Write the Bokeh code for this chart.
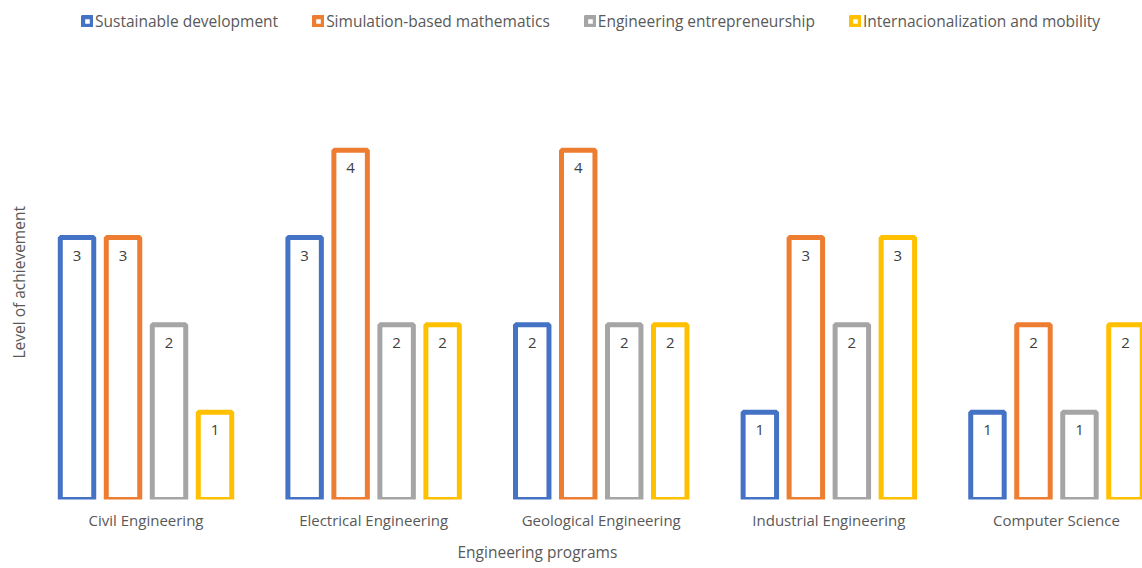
from bokeh.plotting import figure
from bokeh.models import ColumnDataSource, Legend, LegendItem, Range1d, FixedTicker, Title
from bokeh.transform import dodge
from bokeh.core.properties import value
from bokeh.embed import file_html
from bokeh.resources import INLINE

programs = ["Civil Engineering", "Electrical Engineering", "Geological Engineering",
            "Industrial Engineering", "Computer Science"]
series_names = ["Sustainable development", "Simulation-based mathematics",
                "Engineering entrepreneurship", "Internacionalization and mobility"]
sustainable = [3, 3, 2, 1, 1]
simulation = [3, 4, 4, 3, 2]
entrepreneurship = [2, 2, 2, 2, 1]
internationalization = [1, 2, 2, 3, 2]
colors = ["#4472C4", "#ED7D31", "#A5A5A5", "#FFC000"]

series = [sustainable, simulation, entrepreneurship, internationalization]
keys = ["s0", "s1", "s2", "s3"]

data = {"idx": list(range(len(programs)))}
for k, vals in zip(keys, series):
    data[k] = vals
    data[k + "_lbl"] = [str(v) for v in vals]
src = ColumnDataSource(data)

FONT = "Open Sans"
W, H = 1142, 568
p = figure(width=W, height=H, output_backend="svg", toolbar_location=None,
           x_range=Range1d(-0.4943, 4.378), y_range=Range1d(0, 5.714),
           min_border_left=33, min_border_right=0, min_border_top=0, min_border_bottom=69)
p.outline_line_color = None
p.xgrid.visible = False
p.ygrid.visible = False
p.yaxis.visible = False
p.background_fill_color = "white"
p.border_fill_color = "white"

step = 0.2021
offsets = [-1.5 * step, -0.5 * step, 0.5 * step, 1.5 * step]
bar_w = 0.147

items = []
for k, name, c, off in zip(keys, series_names, colors, offsets):
    r = p.vbar(x=dodge("idx", off, range=p.x_range), top=k, bottom=0, width=bar_w,
               source=src, fill_color="white", line_color=c, line_width=5)
    p.text(x=dodge("idx", off, range=p.x_range), y=k, text=k + "_lbl", source=src,
           y_offset=18, text_align="center", text_baseline="middle",
           text_font=value(FONT), text_font_size="15px", text_color="#404040")
    items.append(LegendItem(label=name, renderers=[r]))

legend = Legend(items=items, orientation="horizontal", location=(48, 467),
                glyph_width=12, glyph_height=12, label_standoff=2, spacing=34,
                padding=0, margin=0, label_height=16,
                label_text_font=FONT, label_text_font_size="15.5px",
                label_text_color="#595959", background_fill_alpha=0,
                border_line_alpha=0)
p.add_layout(legend)

xa = p.xaxis[0]
xa.ticker = FixedTicker(ticks=list(range(len(programs))))
xa.major_label_overrides = {i: n for i, n in enumerate(programs)}
xa.axis_line_color = None
xa.major_tick_line_color = None
xa.minor_tick_line_color = None
xa.major_tick_out = 0
xa.minor_tick_out = 0
xa.major_label_standoff = 10
xa.major_label_text_font = FONT
xa.major_label_text_font_size = "15px"
xa.major_label_text_color = "#595959"

xtitle = Title(text="Engineering programs", align="left", offset=424, standoff=12,
               text_font=FONT, text_font_size="15.5px", text_font_style="normal",
               text_color="#595959")
p.add_layout(xtitle, "below")

ytitle = Title(text="Level of achievement", align="left", offset=141, standoff=8,
               text_font=FONT, text_font_size="15.5px", text_font_style="normal",
               text_color="#595959")
p.add_layout(ytitle, "left")

open("out.html", "w").write(file_html(p, INLINE))
